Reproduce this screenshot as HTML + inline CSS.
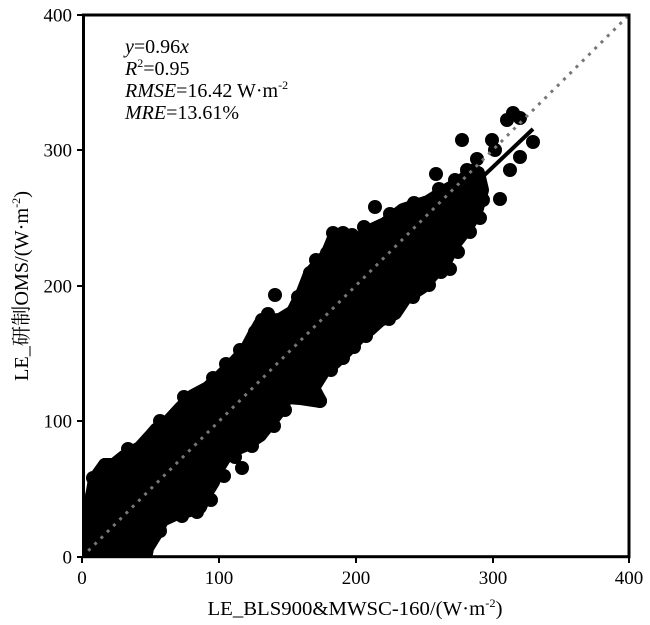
<!DOCTYPE html>
<html>
<head>
<meta charset="utf-8">
<style>
html,body{margin:0;padding:0;background:#fff;}
svg{display:block;}
text{font-family:"Liberation Serif","Noto Serif CJK SC",serif;fill:#000;}
</style>
</head>
<body>
<svg width="650" height="625" viewBox="0 0 650 625" xmlns="http://www.w3.org/2000/svg">
<rect x="0" y="0" width="650" height="625" fill="#fff"/>
<defs>
<clipPath id="pa"><rect x="83" y="15" width="546" height="542"/></clipPath>
</defs>

<g clip-path="url(#pa)">
  <polygon fill="#000" stroke="#000" stroke-width="14" stroke-linejoin="round" points="
  89,560 89,535 90,505 93,491 95,479 105,465 114,465 124,457 140,448 150,437 156,430 168,422 180,409 193,396
  208,388 220,377 235,362 246,350 255,333 262,321 280,320 293,312 303,292 310,274 327,255 334,238 343,234
  358,240 372,230 385,224 403,210 428,202 447,190 460,183 472,171 478,173
  482,190 476,212 465,230 452,247 445,262 432,275 422,287 405,298
  395,313 380,320 370,329 358,338 347,350 335,362 323,372 313,388 320,401 300,398 287,397 278,412 268,425
  260,435 245,445 228,452 218,468 213,482 205,495 200,507 190,510 175,514 162,520 155,535 147,548 145,560"/>
  <g fill="#000">
    <!-- outliers -->
    <circle cx="242" cy="468" r="7"/>
    <circle cx="275" cy="295" r="7"/>
    <circle cx="375" cy="207" r="7"/>
    <circle cx="436" cy="174" r="7"/>
    <circle cx="462" cy="140" r="7"/>
    <circle cx="450" cy="269" r="7"/>
    <circle cx="477" cy="159" r="7"/>
    <circle cx="492" cy="140" r="7"/>
    <circle cx="495" cy="150" r="7"/>
    <circle cx="483" cy="200" r="7"/>
    <circle cx="500" cy="199" r="7"/>
    <circle cx="480" cy="218" r="7"/>
    <circle cx="510" cy="170" r="7"/>
    <circle cx="520" cy="157" r="7"/>
    <circle cx="533" cy="142" r="7"/>
    <circle cx="513" cy="113" r="7"/>
    <circle cx="507" cy="120" r="7"/>
    <circle cx="520" cy="118" r="7"/>
    <circle cx="397" cy="302" r="7"/>
    <circle cx="312" cy="386" r="7"/>
    <circle cx="320" cy="401" r="7"/>
    <circle cx="333" cy="233" r="7"/>
    <circle cx="343" cy="233" r="7"/>
    <circle cx="327" cy="253" r="7"/>
    <circle cx="310" cy="273" r="7"/>
    <circle cx="293" cy="312" r="7"/>
    <circle cx="255" cy="332" r="7"/>
    <circle cx="262" cy="320" r="7"/>
    <circle cx="260" cy="435" r="7"/>
    <circle cx="93" cy="478" r="7"/>
    <circle cx="105" cy="465" r="7"/>
    <circle cx="113" cy="465" r="7"/>
    <!-- edge bumps upper-left -->
    <circle cx="128" cy="449" r="7"/>
    <circle cx="160" cy="421" r="7"/>
    <circle cx="184" cy="397" r="7"/>
    <circle cx="213" cy="378" r="7"/>
    <circle cx="226" cy="364" r="7"/>
    <circle cx="240" cy="350" r="7"/>
    <circle cx="268" cy="314" r="7"/>
    <circle cx="298" cy="297" r="7"/>
    <circle cx="316" cy="260" r="7"/>
    <circle cx="352" cy="235" r="7"/>
    <circle cx="364" cy="227" r="7"/>
    <circle cx="390" cy="214" r="7"/>
    <circle cx="414" cy="203" r="7"/>
    <circle cx="439" cy="189" r="7"/>
    <circle cx="455" cy="180" r="7"/>
    <circle cx="467" cy="170" r="7"/>
    <!-- edge bumps lower-right -->
    <circle cx="160" cy="531" r="7"/>
    <circle cx="182" cy="516" r="7"/>
    <circle cx="197" cy="512" r="7"/>
    <circle cx="211" cy="500" r="7"/>
    <circle cx="224" cy="476" r="7"/>
    <circle cx="235" cy="457" r="7"/>
    <circle cx="252" cy="446" r="7"/>
    <circle cx="274" cy="426" r="7"/>
    <circle cx="285" cy="410" r="7"/>
    <circle cx="331" cy="370" r="7"/>
    <circle cx="343" cy="358" r="7"/>
    <circle cx="354" cy="347" r="7"/>
    <circle cx="366" cy="336" r="7"/>
    <circle cx="389" cy="319" r="7"/>
    <circle cx="413" cy="297" r="7"/>
    <circle cx="429" cy="285" r="7"/>
    <circle cx="441" cy="272" r="7"/>
    <circle cx="458" cy="252" r="7"/>
    <circle cx="470" cy="232" r="7"/>
  </g>
  <line x1="82" y1="557" x2="533" y2="129" stroke="#000" stroke-width="4"/>
  <line x1="82" y1="557" x2="629" y2="15" stroke="#777" stroke-width="3" stroke-dasharray="3 5.8"/>
</g>

<rect x="83.5" y="15" width="545.5" height="541.7" fill="none" stroke="#000" stroke-width="3"/>

<g stroke="#000" stroke-width="2">
  <line x1="82" y1="557" x2="82" y2="563"/>
  <line x1="219" y1="557" x2="219" y2="563"/>
  <line x1="356" y1="557" x2="356" y2="563"/>
  <line x1="493" y1="557" x2="493" y2="563"/>
  <line x1="629" y1="557" x2="629" y2="563"/>
  <line x1="77" y1="557" x2="83" y2="557"/>
  <line x1="77" y1="421" x2="83" y2="421"/>
  <line x1="77" y1="286" x2="83" y2="286"/>
  <line x1="77" y1="150" x2="83" y2="150"/>
  <line x1="77" y1="15" x2="83" y2="15"/>
</g>

<g font-size="19">
  <text x="72" y="563.5" text-anchor="end">0</text>
  <text x="72" y="427.5" text-anchor="end">100</text>
  <text x="72" y="292.5" text-anchor="end">200</text>
  <text x="72" y="156.5" text-anchor="end">300</text>
  <text x="72" y="21.5" text-anchor="end">400</text>
  <text x="82" y="584" text-anchor="middle">0</text>
  <text x="219" y="584" text-anchor="middle">100</text>
  <text x="356" y="584" text-anchor="middle">200</text>
  <text x="493" y="584" text-anchor="middle">300</text>
  <text x="629" y="584" text-anchor="middle">400</text>
</g>

<text x="355" y="615" font-size="20" text-anchor="middle" textLength="295" lengthAdjust="spacingAndGlyphs">LE_BLS900&amp;MWSC-160/(W·m<tspan dy="-8" font-size="12">-2</tspan><tspan dy="8">)</tspan></text>
<text transform="translate(28,286) rotate(-90)" font-size="20" text-anchor="middle" textLength="190" lengthAdjust="spacingAndGlyphs">LE_研制OMS/(W·m<tspan dy="-8" font-size="12">-2</tspan><tspan dy="8">)</tspan></text>

<g font-size="20">
  <text x="125" y="53"><tspan font-style="italic">y</tspan>=0.96<tspan font-style="italic">x</tspan></text>
  <text x="125" y="75"><tspan font-style="italic">R</tspan><tspan dy="-8" font-size="12">2</tspan><tspan dy="8">=0.95</tspan></text>
  <text x="125" y="97"><tspan font-style="italic">RMSE</tspan>=16.42 W·m<tspan dy="-8" font-size="12">-2</tspan></text>
  <text x="125" y="119"><tspan font-style="italic">MRE</tspan>=13.61%</text>
</g>
</svg>
</body>
</html>
